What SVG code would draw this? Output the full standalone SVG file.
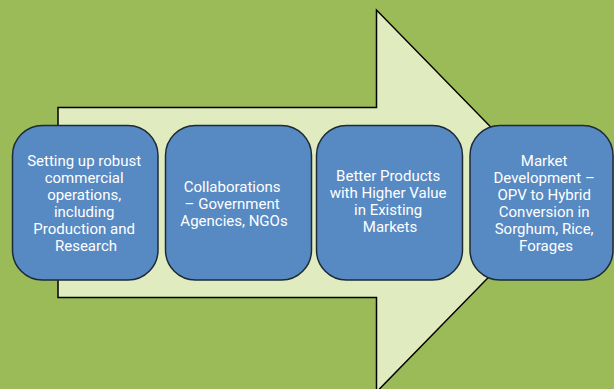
<svg xmlns="http://www.w3.org/2000/svg" width="614" height="389" viewBox="0 0 614 389">
  <style>
    .bg { fill: #9bbb59; }
    .arrow { fill: #e0ecc0; stroke: #000; stroke-width: 1.5; }
    .box { fill: #5789c3; stroke: #1e2a36; stroke-width: 1.5; }
    .label { fill: #ffffff; font-family: Roboto, "Liberation Sans", sans-serif; font-size: 15px; text-anchor: middle; dominant-baseline: central; }
  </style>
  <rect class="bg" x="0" y="0" width="614" height="389"/>

  <!-- big block arrow behind the steps -->
  <g id="connectors">
    <path class="arrow" d="M58,107.5 H376.5 V10 L563,201 L376.5,392 V297.5 H58 Z"/>
  </g>

  <g id="step1">
    <rect class="box" x="12.5" y="125.5" width="145.5" height="154.5" rx="30" ry="30"/>
    <text class="label">
      <tspan x="86" y="161">Setting up robust</tspan>
      <tspan x="86" y="178">commercial</tspan>
      <tspan x="86" y="195">operations,</tspan>
      <tspan x="86" y="212">including</tspan>
      <tspan x="86" y="229">Production and</tspan>
      <tspan x="86" y="246">Research</tspan>
    </text>
  </g>

  <g id="step2">
    <rect class="box" x="165.5" y="125.5" width="146" height="154.5" rx="30" ry="30"/>
    <text class="label">
      <tspan x="234" y="187">Collaborations</tspan>
      <tspan x="234" y="204">– Government</tspan>
      <tspan x="234" y="221">Agencies, NGOs</tspan>
    </text>
  </g>

  <g id="step3">
    <rect class="box" x="316.5" y="125.5" width="146" height="154.5" rx="30" ry="30"/>
    <text class="label">
      <tspan x="390" y="176">Better Products</tspan>
      <tspan x="390" y="193">with Higher Value</tspan>
      <tspan x="390" y="210">in Existing</tspan>
      <tspan x="390" y="227">Markets</tspan>
    </text>
  </g>

  <g id="step4">
    <rect class="box" x="470" y="125.5" width="143" height="154.5" rx="30" ry="30"/>
    <text class="label">
      <tspan x="546" y="161">Market</tspan>
      <tspan x="546" y="178">Development –</tspan>
      <tspan x="546" y="195">OPV to Hybrid</tspan>
      <tspan x="546" y="212">Conversion in</tspan>
      <tspan x="546" y="229">Sorghum, Rice,</tspan>
      <tspan x="546" y="246">Forages</tspan>
    </text>
  </g>
</svg>
